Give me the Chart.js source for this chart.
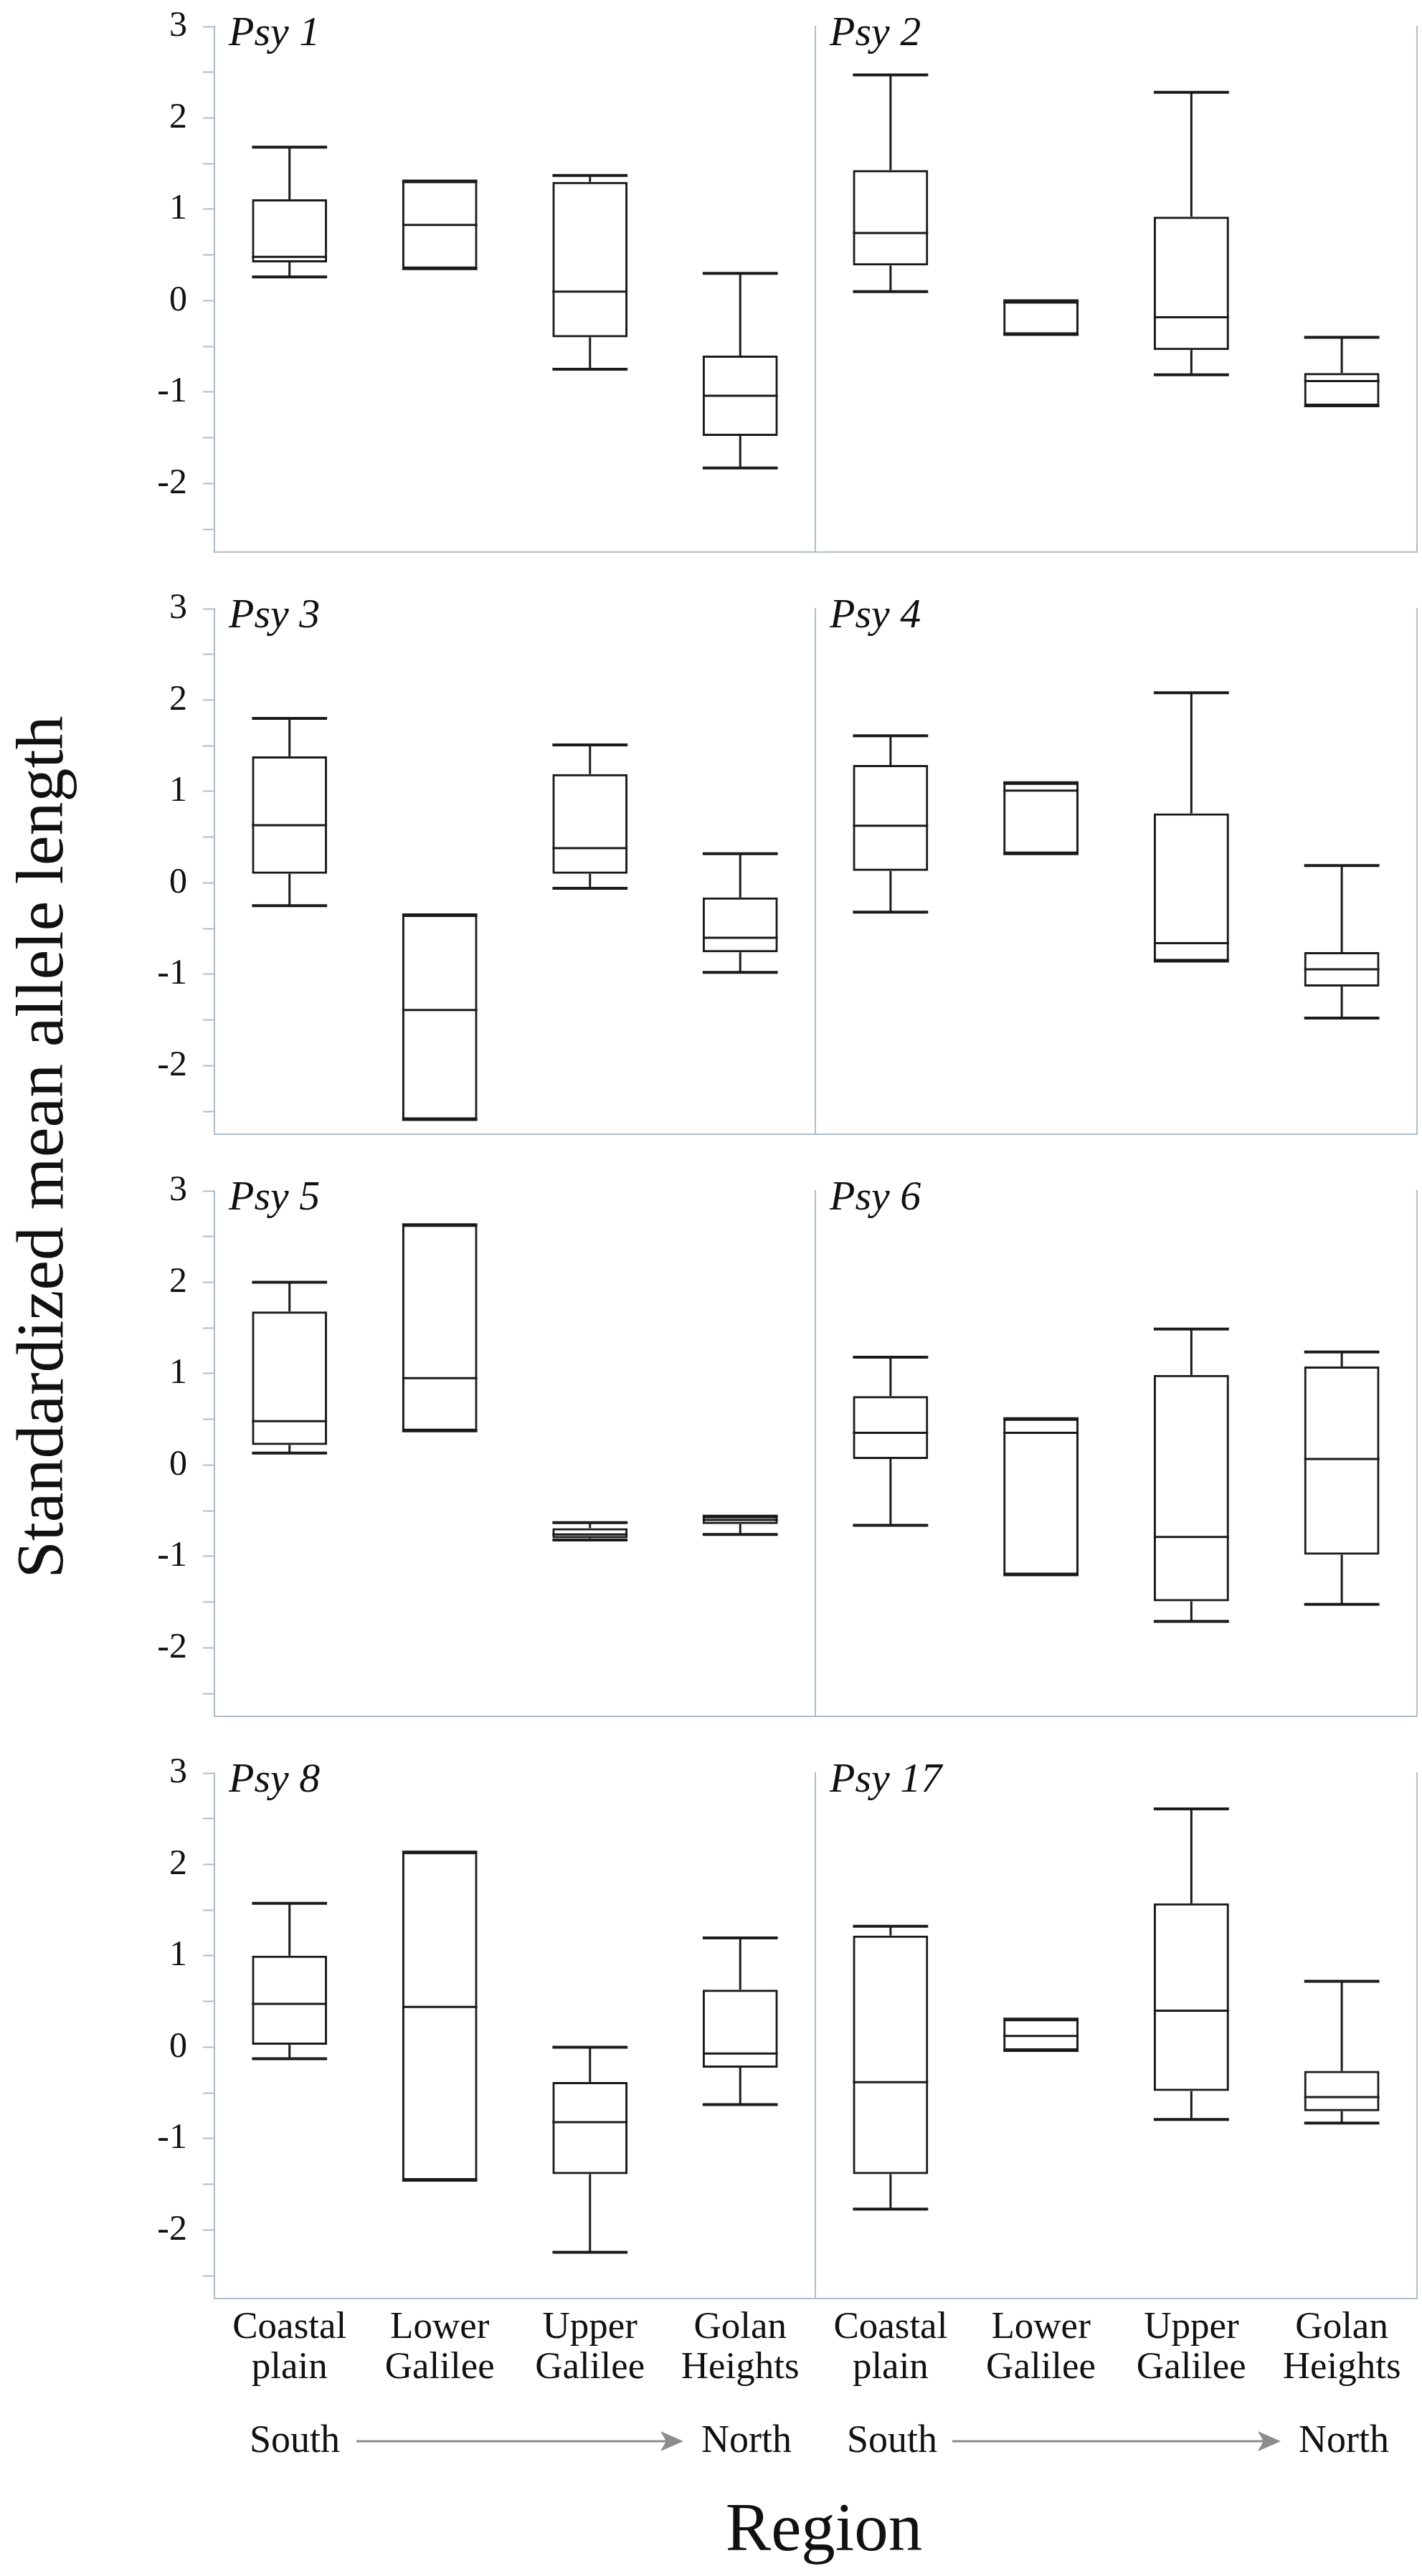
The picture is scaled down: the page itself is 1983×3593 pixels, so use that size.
<!DOCTYPE html>
<html>
<head>
<meta charset="utf-8">
<title>Standardized mean allele length by region</title>
<script src="https://cdn.jsdelivr.net/npm/chart.js@4.4.1/dist/chart.umd.min.js"></script>
<style>
  html, body { margin: 0; padding: 0; background: #fff; }
  #page {
    position: relative; width: 1983px; height: 3593px; overflow: hidden;
    background: #fff; color: #111;
    font-family: 'Liberation Serif', 'Times New Roman', serif;
  }
  .panel { position: absolute; }
  .txt { position: absolute; white-space: nowrap; }
  #ytitle {
    left: 55px; top: 1600px; font-size: 94px; line-height: 94px;
    transform: translate(-50%, -50%) rotate(-90deg);
  }
  .dir { font-size: 54px; line-height: 54px; top: 3375px; transform: translateX(-50%); }
  #xtitle { font-size: 95px; line-height: 95px; top: 3478px; left: 1149px; transform: translateX(-50%); }
  #arrows { position: absolute; left: 0; top: 0; }
</style>
</head>
<body>
<div id="page">
  <div class="txt" id="ytitle">Standardized mean allele length</div>

  <div class="txt dir" style="left:411px">South</div>
  <div class="txt dir" style="left:1041px">North</div>
  <div class="txt dir" style="left:1244px">South</div>
  <div class="txt dir" style="left:1874px">North</div>
  <svg id="arrows" width="1983" height="3593">
    <g stroke="#8c8c8c" stroke-width="3" fill="none">
      <line x1="497" y1="3405" x2="940" y2="3405"/>
      <line x1="1328" y1="3405" x2="1773" y2="3405"/>
    </g>
    <g fill="#8c8c8c">
      <path d="M953 3405 L921 3391 L929 3405 L921 3419 Z"/>
      <path d="M1786 3405 L1754 3391 L1762 3405 L1754 3419 Z"/>
    </g>
  </svg>
  <div class="txt" id="xtitle">Region</div>
</div>

<script>
// ==========================================
// Data
// each region: [min, q1, median, q3, max]
// ==========================================
const regions = [['Coastal', 'plain'], ['Lower', 'Galilee'], ['Upper', 'Galilee'], ['Golan', 'Heights']];
const markers = ['Psy 1', 'Psy 2', 'Psy 3', 'Psy 4', 'Psy 5', 'Psy 6', 'Psy 8', 'Psy 17'];
const yTicks = [-2, -1, 0, 1, 2, 3];

const psy1 = [[0.26, 0.42, 0.48, 1.11, 1.68], [0.35, 0.35, 0.83, 1.31, 1.31], [-0.75, -0.40, 0.10, 1.30, 1.37], [-1.83, -1.48, -1.04, -0.60, 0.30]];
const psy2 = [[0.10, 0.385, 0.74, 1.43, 2.47], [-0.37, -0.37, -0.02, 0.0, 0.0], [-0.81, -0.54, -0.18, 0.92, 2.28], [-1.15, -1.15, -0.88, -0.79, -0.40]];
const psy3 = [[-0.25, 0.10, 0.63, 1.385, 1.80], [-2.59, -2.59, -1.39, -0.35, -0.35], [-0.06, 0.10, 0.38, 1.19, 1.51], [-0.98, -0.76, -0.60, -0.16, 0.32]];
const psy4 = [[-0.32, 0.13, 0.625, 1.29, 1.61], [0.32, 0.32, 1.01, 1.095, 1.095], [-0.855, -0.855, -0.66, 0.76, 2.08], [-1.48, -1.135, -0.945, -0.757, 0.19]];
const psy5 = [[0.13, 0.22, 0.48, 1.68, 2.00], [0.375, 0.375, 0.95, 2.63, 2.63], [-0.82, -0.80, -0.76, -0.69, -0.63], [-0.76, -0.645, -0.60, -0.56, -0.56]];
const psy6 = [[-0.66, 0.066, 0.353, 0.755, 1.18], [-1.20, -1.20, 0.353, 0.508, 0.508], [-1.71, -1.49, -0.786, 0.985, 1.488], [-1.524, -0.981, 0.066, 1.078, 1.237]];
const psy8 = [[-0.127, 0.026, 0.475, 1.002, 1.574], [-1.455, -1.455, 0.44, 2.136, 2.136], [-2.245, -1.389, -0.82, -0.38, 0.0], [-0.629, -0.224, -0.07, 0.629, 1.196]];
const psy17 = [[-1.772, -1.389, -0.382, 1.222, 1.323], [-0.035, -0.035, 0.123, 0.308, 0.308], [-0.79, -0.48, 0.40, 1.574, 2.607], [-0.83, -0.70, -0.545, -0.26, 0.721]];

const panelStats = [psy1, psy2, psy3, psy4, psy5, psy6, psy8, psy17];

// ==========================================
// Styles
// ==========================================
const INK = '#1a1a1a';
const AXIS = '#aebdc8';
const SERIF = "'Liberation Serif', 'Times New Roman', serif";

// whiskers, caps, median + panel name
const boxPlotExtras = {
    id: 'boxPlotExtras',
    afterDatasetsDraw(chart, args, opts) {
        const { ctx, chartArea } = chart;
        const yScale = chart.scales.y;
        const bars = chart.getDatasetMeta(0).data;
        const py = v => yScale.getPixelForValue(v);
        const seg = (x1, y1, x2, y2) => { ctx.beginPath(); ctx.moveTo(x1, y1); ctx.lineTo(x2, y2); ctx.stroke(); };

        ctx.save();
        ctx.strokeStyle = INK;
        bars.forEach((bar, i) => {
            const [mn, q1, md, q3, mx] = opts.stats[i];
            const x = bar.x, half = bar.width / 2;
            ctx.lineWidth = 3;
            seg(x, py(q3), x, py(mx));
            seg(x, py(q1), x, py(mn));
            seg(x - half, py(md), x + half, py(md));
            ctx.lineWidth = 4;
            seg(x - half, py(mx), x + half, py(mx));
            seg(x - half, py(mn), x + half, py(mn));
        });

        ctx.fillStyle = '#111';
        ctx.font = 'italic 58px ' + SERIF;
        ctx.textAlign = 'left';
        ctx.textBaseline = 'alphabetic';
        ctx.fillText(opts.label, chartArea.left + 20, chartArea.top + 26);
        ctx.restore();
    }
};

// ==========================================
// Panels (4 rows x 2 columns)
// ==========================================
const page = document.getElementById('page');
const ROW_STEP = 812;
const PLOT_TOP = 37;
const PLOT_H = 733;
const X_LABEL_H = 150;

function makePanel(idx) {
    const col = idx % 2, row = Math.floor(idx / 2);
    const isLeft = col === 0, isBottom = row === 3;
    const stats = panelStats[idx];

    const width = isLeft ? 1150 : 883;
    const height = PLOT_TOP + PLOT_H + (isBottom ? X_LABEL_H : 0) + 4;

    const wrap = document.createElement('div');
    wrap.className = 'panel';
    wrap.style.left = (isLeft ? 0 : 1100) + 'px';
    wrap.style.top = (row * ROW_STEP) + 'px';
    const canvas = document.createElement('canvas');
    canvas.width = width;
    canvas.height = height;
    canvas.style.width = width + 'px';
    canvas.style.height = height + 'px';
    wrap.appendChild(canvas);
    page.appendChild(wrap);

    const scales = {
        x: {
            offset: true,
            grid: { display: false, drawTicks: false },
            border: { display: true, color: AXIS, width: 2 },
            ticks: {
                display: isBottom,
                autoSkip: false, maxRotation: 0, minRotation: 0,
                padding: 13,
                color: '#111',
                font: { family: SERIF, size: 53, lineHeight: 1.06 }
            },
            afterFit: s => {
                s.height = isBottom ? X_LABEL_H : 0;
                s.paddingLeft = 0; s.paddingRight = 0;
            }
        },
        y: {
            min: -2.75, max: 3,
            grid: {
                display: isLeft, drawOnChartArea: false, drawTicks: true,
                tickLength: 16, tickColor: AXIS, tickWidth: 2
            },
            border: { display: true, color: AXIS, width: 2 },
            ticks: {
                display: isLeft,
                stepSize: 0.5,
                includeBounds: false,
                autoSkip: false,
                padding: 22,
                color: '#111',
                font: { family: SERIF, size: 50 },
                callback: v => yTicks.includes(v) ? String(v) : ''
            },
            afterFit: s => {
                s.width = isLeft ? 299 : 37;
                s.paddingTop = 0; s.paddingBottom = 0;
            }
        }
    };
    if (!isLeft) {
        scales.yR = {
            position: 'right',
            min: -2.75, max: 3,
            grid: { display: false, drawTicks: false },
            border: { display: true, color: AXIS, width: 2 },
            ticks: { display: false },
            afterFit: s => { s.width = 0; s.paddingTop = 0; s.paddingBottom = 0; }
        };
    }

    new Chart(canvas, {
        type: 'bar',
        data: {
            labels: regions,
            datasets: [{
                data: stats.map(s => [s[1], s[3]]),
                backgroundColor: 'rgba(255,255,255,0)',
                borderColor: INK,
                borderWidth: 3,
                borderSkipped: false,
                barPercentage: 0.5,
                categoryPercentage: 1
            }]
        },
        options: {
            responsive: false,
            animation: false,
            events: [],
            layout: { padding: { top: PLOT_TOP, bottom: 4, left: 0, right: isLeft ? 13 : 7 } },
            plugins: {
                legend: { display: false },
                tooltip: { enabled: false },
                boxPlotExtras: { stats, label: markers[idx] }
            },
            scales
        },
        plugins: [boxPlotExtras]
    });
}

document.addEventListener('DOMContentLoaded', () => {
    markers.forEach((m, i) => makePanel(i));
});
</script>
</body>
</html>
